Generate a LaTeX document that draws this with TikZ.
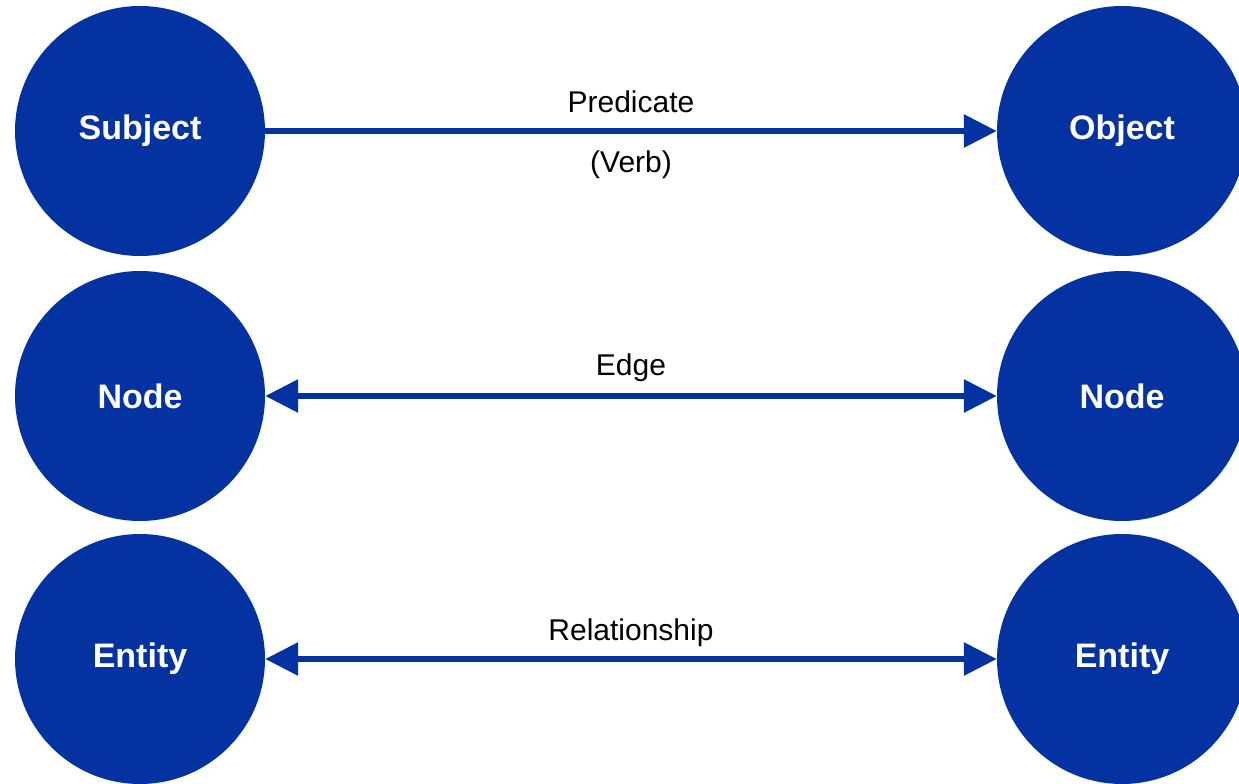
\documentclass[tikz,border=0pt]{standalone}
\usepackage{fontspec}
\setmainfont{Liberation Sans}
\usetikzlibrary{arrows.meta}
\definecolor{kgblue}{RGB}{4,50,160}
\tikzset{
  ent/.style={circle, fill=kgblue, minimum size=250pt, inner sep=0pt, text=white, font=\fontsize{34}{40}\selectfont\bfseries},
  rel/.style={draw=kgblue, line width=6pt, -{Triangle[length=33pt,width=32pt]}},
  birel/.style={draw=kgblue, line width=6pt, {Triangle[length=33pt,width=32pt]}-{Triangle[length=33pt,width=32pt]}},
  lbl/.style={text=black, font=\fontsize{30}{36}\selectfont}
}
\begin{document}
\begin{tikzpicture}[x=1pt,y=-1pt]
\useasboundingbox (0,0) rectangle (1239,784);
\clip (0,0) rectangle (1239,784);
\node[ent] (subj) at (140,131) {Subject};
\node[ent] (obj) at (1122,131) {Object};
\node[ent] (n1) at (140,396) {Node};
\node[ent] (n2) at (1122,396) {Node};
\node[ent] (e1) at (140,659) {Entity};
\node[ent] (e2) at (1122,659) {Entity};
\draw[rel] (subj) -- (obj);
\draw[birel] (n1) -- (n2);
\draw[birel] (e1) -- (e2);
\node[lbl] (pred) at (631,102) {Predicate};
\node[lbl] (verb) at (631,165) {(Verb)};
\node[lbl] (edge) at (631,368) {Edge};
\node[lbl] (relt) at (631,633) {Relationship};
\end{tikzpicture}
\end{document}
